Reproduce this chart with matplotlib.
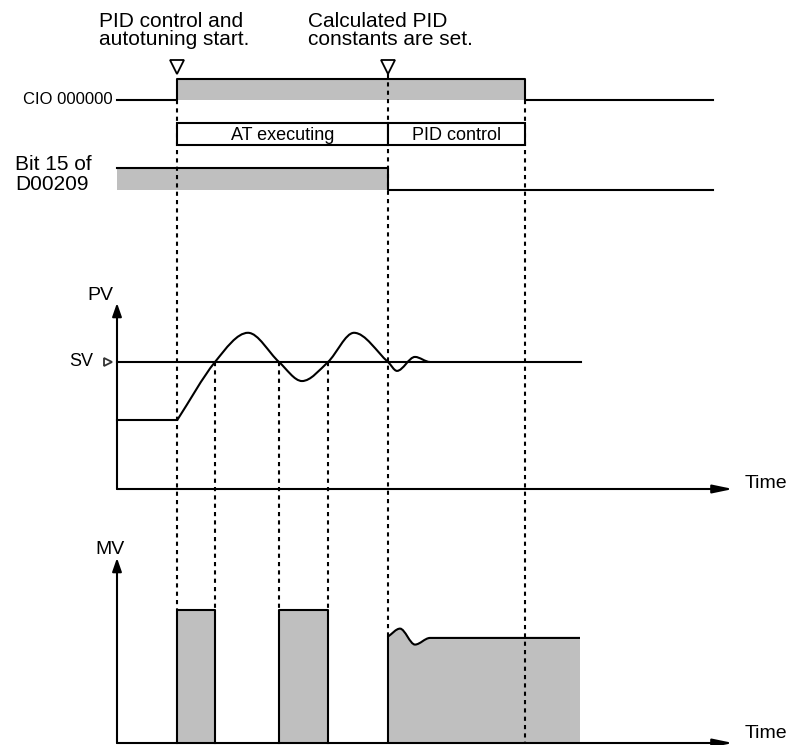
import matplotlib
matplotlib.use('Agg')
import matplotlib.pyplot as plt
from matplotlib.path import Path
from matplotlib.patches import PathPatch, Rectangle, FancyArrowPatch

plt.rcParams['font.family'] = ['Liberation Sans', 'DejaVu Sans']

# ---- data (time in ticks, t = 0 at the PV/MV axes) ----
t_start = 60       # PID control and autotuning start
t_set = 271        # calculated PID constants are set
t_off = 408        # CIO 000000 goes OFF
t_row_end = 596    # end of the signal rows
t_axis_end = 616   # end of the time axes

# PV in % of SV
sv = 100
pv_init = 54
sv_end = 464
pv_t = [60, 98, 131, 162, 185, 211, 237, 271, 280, 298, 313]
pv_v = [54, 100, 123, 100, 85, 100, 123, 100, 93, 104, 100]

# MV in %
mv_at = 100                        # output during AT
at_pulses = [(60, 98), (162, 211)]
mv_t = [271, 283, 298, 313, 463]
mv_v = [80, 86, 74, 79, 79]

# ---- layout ----
X0 = 117
PV0, PVK = 489, 1.27
MV0, MVK = 743, 1.33
CIO_HI, CIO_LO = 79, 100
BOX_TOP, BOX_BOT = 123, 145
BIT_HI, BIT_LO = 168, 190
GRAY = '#bfbfbf'
LW = 1.5


def X(t):
    return X0 + t


def pv_y(v):
    return PV0 - PVK * v


def mv_y(v):
    return MV0 - MVK * v


def smooth(ts, vs, yf):
    # cubic bezier through the read-off points, flat at the turning points
    n = len(ts)
    m = []
    for i in range(n):
        if i == 0:
            s = (vs[1] - vs[0]) / (ts[1] - ts[0])
        elif i == n - 1 or (vs[i] - vs[i-1]) * (vs[i+1] - vs[i]) <= 0:
            s = 0.0
        else:
            s = (vs[i+1] - vs[i-1]) / (ts[i+1] - ts[i-1])
        m.append(s)
    verts = [(X(ts[0]), yf(vs[0]))]
    codes = [Path.MOVETO]
    for i in range(n - 1):
        d = (ts[i+1] - ts[i]) / 3
        verts += [(X(ts[i] + d), yf(vs[i] + m[i] * d)),
                  (X(ts[i+1] - d), yf(vs[i+1] - m[i+1] * d)),
                  (X(ts[i+1]), yf(vs[i+1]))]
        codes += [Path.CURVE4] * 3
    return verts, codes


def arrow(ax, p0, p1, hl, hw):
    ax.add_patch(FancyArrowPatch(p0, p1, arrowstyle='-|>,head_length=%g,head_width=%g' % (hl, hw),
                                 mutation_scale=10, color='black', lw=LW,
                                 shrinkA=0, shrinkB=0, zorder=4))


fig = plt.figure(figsize=(7.91, 7.45), dpi=100)
ax = fig.add_axes([0, 0, 1, 1])
ax.set_xlim(0, 791)
ax.set_ylim(745, 0)
ax.axis('off')

# ---- CIO 000000 ----
ax.add_patch(Rectangle((X(t_start), CIO_HI), t_off - t_start, CIO_LO - CIO_HI,
                       fc=GRAY, ec='none', zorder=1))
ax.plot([X(0), X(t_start), X(t_start), X(t_off), X(t_off), X(t_row_end)],
        [CIO_LO, CIO_LO, CIO_HI, CIO_HI, CIO_LO, CIO_LO], color='black', lw=LW, zorder=3)
ax.text(X(0) - 4, CIO_LO, 'CIO 000000', fontsize=12, ha='right', va='center')

# state boxes
for a, b, lab in [(t_start, t_set, 'AT executing'), (t_set, t_off, 'PID control')]:
    ax.add_patch(Rectangle((X(a), BOX_TOP), b - a, BOX_BOT - BOX_TOP,
                           fc='white', ec='black', lw=LW, zorder=3))
    ax.text((X(a) + X(b)) / 2, (BOX_TOP + BOX_BOT) / 2 + 1, lab, fontsize=13,
            ha='center', va='center', zorder=4)

# ---- bit 15 of D00209 ----
ax.add_patch(Rectangle((X(0), BIT_HI), t_set, BIT_LO - BIT_HI, fc=GRAY, ec='none', zorder=1))
ax.plot([X(0), X(t_set), X(t_set), X(t_row_end)], [BIT_HI, BIT_HI, BIT_LO, BIT_LO],
        color='black', lw=LW, zorder=3)
ax.text(15, 155, 'Bit 15 of\nD00209', fontsize=15, ha='left', va='top', linespacing=1.1)

# ---- event markers and notes ----
ax.plot([X(t_start), X(t_set)], [67, 67], 'v', ms=10, mfc='white', mec='black', mew=1.3, zorder=4)
ax.text(99, 12, 'PID control and\nautotuning start.', fontsize=15, ha='left', va='top',
        linespacing=0.95)
ax.text(308, 12, 'Calculated PID\nconstants are set.', fontsize=15, ha='left', va='top',
        linespacing=0.95)

# ---- dashed guides ----
dash = dict(color='black', lw=1.5, ls=(0, (2, 2)), zorder=2)
ax.plot([X(t_start)] * 2, [CIO_LO, mv_y(mv_at)], **dash)
for a, b in at_pulses:
    for t in (a, b):
        if t != t_start:
            ax.plot([X(t)] * 2, [pv_y(sv), mv_y(mv_at)], **dash)
ax.plot([X(t_set)] * 2, [74, mv_y(mv_v[0])], **dash)
ax.plot([X(t_off)] * 2, [CIO_LO, mv_y(0)], **dash)

# ---- PV panel ----
arrow(ax, (X(0), pv_y(0)), (X(0), 303), 0.8, 0.28)
arrow(ax, (X(0), pv_y(0)), (X(t_axis_end), pv_y(0)), 1.2, 0.25)
ax.text(100, 295, 'PV', fontsize=14, ha='center', va='center')
ax.text(745, pv_y(0) - 5, 'Time', fontsize=14, ha='left', va='center')
ax.plot([X(0), X(sv_end)], [pv_y(sv), pv_y(sv)], color='black', lw=LW, zorder=3)
ax.plot([108], [pv_y(sv)], '>', ms=6, mfc='white', mec='#333333', mew=1.3, zorder=4)
ax.text(93, pv_y(sv) - 1, 'SV', fontsize=13, ha='right', va='center')
ax.plot([X(0), X(pv_t[0])], [pv_y(pv_init)] * 2, color='black', lw=LW, zorder=3)
v, c = smooth(pv_t, pv_v, pv_y)
ax.add_patch(PathPatch(Path(v, c), fc='none', ec='black', lw=LW, zorder=3))

# ---- MV panel ----
arrow(ax, (X(0), mv_y(0)), (X(0), 558), 0.8, 0.28)
arrow(ax, (X(0), mv_y(0)), (X(t_axis_end), mv_y(0)), 1.2, 0.25)
ax.text(110, 550, 'MV', fontsize=14, ha='center', va='center')
ax.text(745, mv_y(0) - 10, 'Time', fontsize=14, ha='left', va='center')
for a, b in at_pulses:
    ax.add_patch(Rectangle((X(a), mv_y(mv_at)), b - a, MVK * mv_at, fc=GRAY, ec='none', zorder=1))
    ax.plot([X(a), X(a), X(b), X(b)], [mv_y(0), mv_y(mv_at), mv_y(mv_at), mv_y(0)],
            color='black', lw=LW, zorder=3)
v, c = smooth(mv_t, mv_v, mv_y)
fill_v = v + [(X(mv_t[-1]), mv_y(0)), (X(mv_t[0]), mv_y(0)), (0, 0)]
fill_c = c + [Path.LINETO, Path.LINETO, Path.CLOSEPOLY]
ax.add_patch(PathPatch(Path(fill_v, fill_c), fc=GRAY, ec='none', zorder=1))
edge_v = [(X(mv_t[0]), mv_y(0))] + v
edge_c = [Path.MOVETO, Path.LINETO] + c[1:]
ax.add_patch(PathPatch(Path(edge_v, edge_c), fc='none', ec='black', lw=LW, zorder=3))

fig.savefig('out.png', dpi=100)
